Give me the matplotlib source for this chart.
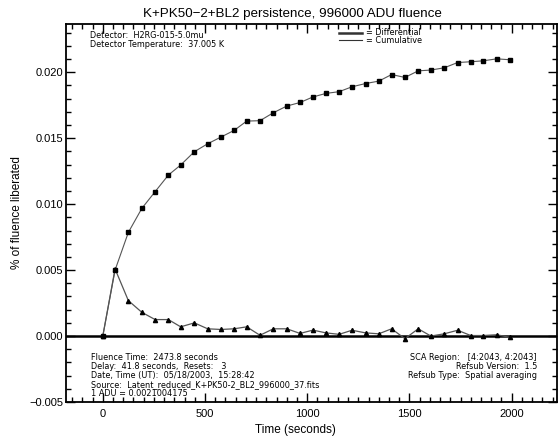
import matplotlib
matplotlib.use("Agg")
import matplotlib.pyplot as plt
from matplotlib.ticker import MultipleLocator
from matplotlib.lines import Line2D

plt.rcParams['font.family'] = ['Liberation Sans', 'DejaVu Sans']

# Sample times (seconds after end of illumination)
time_s = [0, 60, 125, 191, 256, 321, 381, 448, 513, 578, 642, 704, 769, 834,
          900, 965, 1028, 1092, 1156, 1219, 1286, 1350, 1413, 1478, 1543,
          1605, 1670, 1736, 1800, 1861, 1927, 1992]

# Persistence per interval (% of fluence)
differential = [0.0, 0.00509, 0.00269, 0.00180, 0.00125, 0.00125, 0.00070,
                0.00100, 0.00055, 0.00050, 0.00055, 0.00070, 0.00006, 0.00055,
                0.00055, 0.00020, 0.00045, 0.00024, 0.00013, 0.00044, 0.00024,
                0.00017, 0.00055, -0.00020, 0.00055, 0.00000, 0.00017, 0.00044,
                0.00004, 0.00004, 0.00010, -0.00010]

# Running total of liberated charge (% of fluence)
cumulative = [0.0, 0.00500, 0.00786, 0.00968, 0.01095, 0.01221, 0.01297,
              0.01398, 0.01458, 0.01509, 0.01559, 0.01630, 0.01633, 0.01693,
              0.01744, 0.01771, 0.01813, 0.01840, 0.01853, 0.01890, 0.01915,
              0.01933, 0.01983, 0.01961, 0.02011, 0.02017, 0.02034, 0.02074,
              0.02080, 0.02087, 0.02102, 0.02095]

title = "K+PK50\u22122+BL2 persistence, 996000 ADU fluence"
header_lines = ["Detector:  H2RG-015-5.0mu",
                "Detector Temperature:  37.005 K"]
footer_left = ["Fluence Time:  2473.8 seconds",
               "Delay:  41.8 seconds,  Resets:   3",
               "Date, Time (UT):  05/18/2003,  15:28:42",
               "Source:  Latent_reduced_K+PK50-2_BL2_996000_37.fits",
               "1 ADU = 0.0021004175"]
footer_right = ["SCA Region:   [4:2043, 4:2043]",
                "Refsub Version:  1.5",
                "Refsub Type:  Spatial averaging"]

W, H = 559, 438
fig = plt.figure(figsize=(W / 100, H / 100), dpi=100)
ax = fig.add_axes([66 / W, 36 / H, 491 / W, 378.5 / H])

ax.axhline(0.0, color='black', lw=1.8, zorder=1)
ax.plot(time_s, differential, color='#555555', lw=0.9, marker='^',
        markersize=3.0, markerfacecolor='black', markeredgecolor='black', zorder=3)
ax.plot(time_s, cumulative, color='#555555', lw=0.8, marker='s',
        markersize=3.0, markerfacecolor='black', markeredgecolor='black', zorder=3)

ax.set_xlim(-180, 2222)
ax.set_ylim(-0.005, 0.0237)

ax.xaxis.set_major_locator(MultipleLocator(500))
ax.xaxis.set_minor_locator(MultipleLocator(50))
ax.yaxis.set_major_locator(MultipleLocator(0.005))
ax.yaxis.set_minor_locator(MultipleLocator(0.001))
ax.yaxis.set_major_formatter(plt.FuncFormatter(
    lambda v, p: ("%.3f" % v).replace('-', '\u2212')))

ax.tick_params(which='both', direction='in', top=True, right=True,
               labelsize=8, width=1.0)
ax.tick_params(axis='x', pad=5)
ax.tick_params(axis='y', pad=2)
ax.tick_params(which='major', length=6.5)
ax.tick_params(which='minor', length=3.5)
for sp in ax.spines.values():
    sp.set_linewidth(1.3)

fig.text(292 / W, 1 - 14 / H, title, fontsize=9.6, ha='center', va='center')
fig.text(295 / W, 1 - 430 / H, "Time (seconds)", fontsize=8.5,
         ha='center', va='center')
fig.text(17 / W, 1 - 213 / H, "% of fluence liberated", fontsize=8.5,
         ha='center', va='center', rotation=90)

# Run information
info = dict(fontsize=5.9, family='DejaVu Sans', va='center')
for i, s in enumerate(header_lines):
    fig.text(90 / W, 1 - (36 + 8.6 * i) / H, s, **info)
for i, s in enumerate(footer_left):
    fig.text(91 / W, 1 - (357 + 9.1 * i) / H, s, **info)
for i, s in enumerate(footer_right):
    fig.text(537 / W, 1 - (357 + 9.4 * i) / H, s, ha='right', **info)

# Legend: thick line for differential, thin for cumulative
for i, (lw, s) in enumerate([(1.8, "= Differential"), (0.8, "= Cumulative")]):
    yy = 1 - (32.5 + 7.8 * i) / H
    fig.add_artist(Line2D([339 / W, 362 / W], [yy, yy], color='#333333', lw=lw))
    fig.text(366 / W, yy, s, **info)

fig.savefig("out.png", dpi=100)
